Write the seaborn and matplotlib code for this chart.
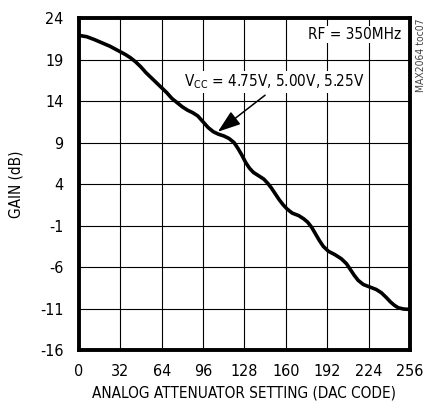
import numpy as np
import pandas as pd
import seaborn as sns
import matplotlib.pyplot as plt

# values
dac_code = [0, 6, 12, 18, 24, 30, 36, 40, 44, 48, 52, 56, 60, 64, 68, 72, 76,
            80, 84, 88, 92, 96, 100, 104, 108, 112, 116, 120, 123, 126, 129,
            132, 135, 139, 143, 146, 149, 152, 155, 158, 161, 165, 170, 174,
            177, 180, 183, 186, 189, 193, 198, 203, 207, 210, 213, 216, 220,
            225, 230, 234, 238, 241, 244, 247, 251, 256]
gain_db = [21.9, 21.75, 21.4, 21.0, 20.6, 20.1, 19.6, 19.2, 18.7, 18.1, 17.4,
           16.8, 16.2, 15.6, 15.0, 14.3, 13.8, 13.3, 12.9, 12.6, 12.2, 11.5,
           10.8, 10.3, 10.0, 9.8, 9.5, 9.0, 8.3, 7.5, 6.6, 5.9, 5.4, 5.0, 4.6,
           4.1, 3.5, 2.8, 2.1, 1.5, 1.0, 0.5, 0.2, -0.2, -0.6, -1.2, -2.0,
           -2.8, -3.5, -4.1, -4.5, -5.0, -5.6, -6.3, -7.0, -7.6, -8.1, -8.4,
           -8.7, -9.1, -9.7, -10.2, -10.6, -10.9, -11.05, -11.1]

x_ticks = [0, 32, 64, 96, 128, 160, 192, 224, 256]
y_ticks = [24, 19, 14, 9, 4, -1, -6, -11, -16]

df = pd.DataFrame({"dac": dac_code, "gain": gain_db})

sns.set_style("white")
plt.rcParams['font.family'] = ['DejaVu Sans']
plt.rcParams['font.stretch'] = 'condensed'
plt.rcParams['axes.unicode_minus'] = False
plt.rcParams['text.color'] = 'black'
plt.rcParams['axes.labelcolor'] = 'black'
plt.rcParams['xtick.color'] = 'black'
plt.rcParams['ytick.color'] = 'black'

fig, ax = plt.subplots(figsize=(4.31, 4.09), dpi=100)
fig.subplots_adjust(left=0.183, right=0.951, top=0.956, bottom=0.144)

sns.lineplot(data=df, x="dac", y="gain", ax=ax, color="black", linewidth=2.6,
             solid_joinstyle="round", solid_capstyle="round")

ax.set_xlim(0, 256)
ax.set_ylim(-16, 24)
ax.set_xticks(x_ticks)
ax.set_yticks(y_ticks)
ax.tick_params(axis="x", length=0, labelsize=11.5, pad=10)
ax.tick_params(axis="y", length=0, labelsize=11.5, pad=11)
ax.grid(True, color="black", linewidth=0.8)
for sp in ax.spines.values():
    sp.set_visible(True)
    sp.set_color("black")
    sp.set_linewidth(2.8)

ax.set_xlabel("ANALOG ATTENUATOR SETTING (DAC CODE)", fontsize=11, labelpad=5)
ax.set_ylabel("GAIN (dB)", fontsize=11, labelpad=12)

ax.text(249, 22.0, "RF = 350MHz", ha="right", va="center", fontsize=11,
        bbox=dict(facecolor="white", edgecolor="none", pad=1))
ax.text(151, 16.3, "V$_{\\mathregular{CC}}$ = 4.75V, 5.00V, 5.25V",
        ha="center", va="center", fontsize=11,
        bbox=dict(facecolor="white", edgecolor="none", pad=1))
ax.annotate("", xy=(107.5, 10.3), xytext=(144, 14.7),
            arrowprops=dict(arrowstyle="-|>,head_length=1.0,head_width=0.35",
                            color="black", lw=1.1, mutation_scale=14,
                            shrinkA=0, shrinkB=0))
fig.text(0.977, 0.955, "MAX2064 toc07", rotation=90, ha="center", va="top",
         fontsize=7.5, color="#444444")

plt.savefig("out.png", dpi=100)
